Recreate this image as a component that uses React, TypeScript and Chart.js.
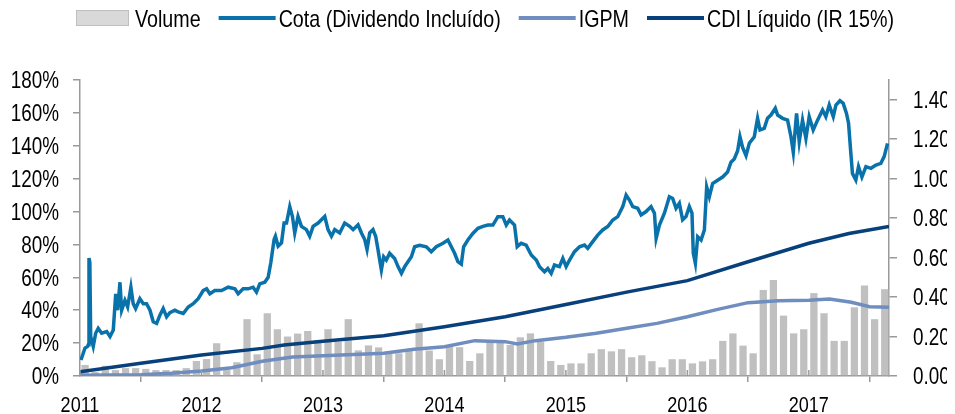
import React, { useEffect, useRef } from 'react';
import { Chart, registerables } from 'chart.js';

Chart.register(...registerables);

const FONT = '"Liberation Sans", Arial, sans-serif';
const SQUEEZE = 0.82; // the reference uses a narrow sans face

// Monthly traded volume (right axis), Jan 2011 .. Aug 2017
const volumeStartYear = 2011;
const volume2011 = [0.056, 0.02, 0.052, 0.03, 0.04, 0.04, 0.036, 0.03, 0.03, 0.03, 0.04, 0.076];
const volume2012 = [0.086, 0.166, 0.03, 0.07, 0.288, 0.11, 0.318, 0.237, 0.2, 0.215, 0.228, 0.183];
const volume2013 = [0.237, 0.174, 0.288, 0.13, 0.155, 0.145, 0.115, 0.115, 0.13, 0.267, 0.129, 0.085];
const volume2014 = [0.149, 0.146, 0.076, 0.115, 0.174, 0.174, 0.157, 0.196, 0.216, 0.175, 0.076, 0.056];
const volume2015 = [0.064, 0.064, 0.115, 0.136, 0.125, 0.136, 0.095, 0.105, 0.075, 0.044, 0.085, 0.085];
const volume2016 = [0.064, 0.074, 0.085, 0.178, 0.216, 0.154, 0.115, 0.436, 0.487, 0.306, 0.216, 0.237];
const volume2017 = [0.42, 0.318, 0.178, 0.178, 0.348, 0.458, 0.288, 0.44];
const volumeValues = [...volume2011, ...volume2012, ...volume2013, ...volume2014, ...volume2015, ...volume2016, ...volume2017];

// Cota (Dividendo Incluído), % (left axis); dates as decimal years
const cotaDates = [
  2011.008, 2011.041, 2011.063, 2011.068, 2011.074, 2011.081, 2011.088, 2011.109, 2011.129, 2011.150,
  2011.178, 2011.220, 2011.247, 2011.274, 2011.294, 2011.310, 2011.329, 2011.343, 2011.370, 2011.392,
  2011.419, 2011.438, 2011.458, 2011.493, 2011.521, 2011.548, 2011.576, 2011.603, 2011.631, 2011.658,
  2011.685, 2011.713, 2011.740, 2011.781, 2011.808, 2011.850, 2011.891, 2011.932, 2011.973, 2012.014,
  2012.042, 2012.069, 2012.110, 2012.165, 2012.220, 2012.275, 2012.302, 2012.343, 2012.384, 2012.425,
  2012.453, 2012.480, 2012.521, 2012.549, 2012.571, 2012.598, 2012.609, 2012.631, 2012.659, 2012.680,
  2012.700, 2012.727, 2012.749, 2012.768, 2012.795, 2012.823, 2012.864, 2012.891, 2012.919, 2012.960,
  2013.015, 2013.042, 2013.070, 2013.097, 2013.138, 2013.179, 2013.220, 2013.248, 2013.289, 2013.317,
  2013.344, 2013.363, 2013.385, 2013.412, 2013.434, 2013.453, 2013.467, 2013.481, 2013.500, 2013.522,
  2013.549, 2013.590, 2013.618, 2013.646, 2013.673, 2013.700, 2013.728, 2013.755, 2013.796, 2013.851,
  2013.892, 2013.933, 2013.988, 2014.029, 2014.057, 2014.084, 2014.111, 2014.139, 2014.158, 2014.193,
  2014.234, 2014.276, 2014.317, 2014.358, 2014.399, 2014.440, 2014.481, 2014.509, 2014.536, 2014.577,
  2014.599, 2014.632, 2014.673, 2014.715, 2014.756, 2014.783, 2014.824, 2014.851, 2014.879, 2014.906,
  2014.947, 2014.975, 2015.002, 2015.030, 2015.071, 2015.112, 2015.153, 2015.180, 2015.221, 2015.262,
  2015.303, 2015.345, 2015.386, 2015.427, 2015.468, 2015.496, 2015.523, 2015.550, 2015.591, 2015.619,
  2015.660, 2015.701, 2015.729, 2015.743, 2015.770, 2015.811, 2015.852, 2015.879, 2015.907, 2015.934,
  2015.961, 2015.989, 2016.016, 2016.038, 2016.049, 2016.066, 2016.085, 2016.113, 2016.140, 2016.159,
  2016.181, 2016.208, 2016.249, 2016.290, 2016.331, 2016.359, 2016.386, 2016.414, 2016.433, 2016.455,
  2016.483, 2016.510, 2016.551, 2016.578, 2016.598, 2016.633, 2016.660, 2016.688, 2016.724, 2016.743,
  2016.784, 2016.825, 2016.853, 2016.872, 2016.899, 2016.921, 2016.948, 2016.976, 2017.003, 2017.036,
  2017.072, 2017.113, 2017.140, 2017.168, 2017.201, 2017.223, 2017.256, 2017.283, 2017.310, 2017.327,
  2017.346, 2017.359, 2017.387, 2017.409, 2017.437, 2017.470, 2017.511, 2017.552, 2017.593, 2017.620,
  2017.648,
];
const cotaValues = [
  9.7, 17, 18, 19, 71.7, 69, 24, 18, 26, 29,
  26, 27, 24, 28, 50, 40, 57, 40, 46, 42,
  54, 44, 41, 47, 44, 44, 40, 33, 32, 37,
  41, 36, 38.5, 40, 39, 38, 42, 44, 47, 52,
  53, 50, 52, 52, 54, 53, 50, 53, 53, 54,
  51, 56, 57, 60, 69, 83, 85, 79, 81, 93,
  93, 103, 97, 87, 97, 91, 89, 85, 91, 93,
  97, 89, 85, 89, 87, 93, 91, 89, 92, 87,
  83, 77, 87, 89, 85, 77, 70.5, 64.5, 72.5, 70.5,
  74.6, 71.5, 66.5, 62.4, 66.5, 69.5, 72.5, 78.6, 79.5, 78.6,
  75.6, 78.6, 80.7, 82.7, 78.6, 74.6, 69.5, 68, 78.6, 82.7,
  86.7, 89.8, 91, 91.8, 91.8, 96.9, 96.9, 91.8, 94.9, 91.8,
  78.6, 80.7, 79.6, 73.6, 70.5, 66.5, 63.4, 65.4, 62.4, 67.5,
  66.5, 71.5, 66.5, 70.5, 75.6, 78.6, 79.6, 77.6, 81.7, 85.7,
  88.8, 90.9, 94.9, 96.9, 103, 110, 107, 103, 102, 98,
  100, 103, 99, 83.7, 91.8, 99, 109, 108, 102, 105,
  95, 97, 103, 99, 74.6, 68.5, 84.7, 82.7, 88.8, 115,
  109, 117, 119, 121, 124, 130, 132, 137, 145.5, 139,
  134, 141.5, 145.5, 156.7, 149.6, 150.6, 156.7, 158.7, 162.8, 158.7,
  156.7, 155.6, 145.5, 136, 159.7, 142.5, 155.6, 144.5, 157.7, 149.6,
  155.6, 161.8, 157.7, 164.8, 157.7, 164.8, 167.4, 165.8, 159.7, 153.7,
  135.4, 123.2, 119.2, 127.3, 121, 127.3, 126.3, 128.3, 129.3, 133.4,
  141.5,
];

// CDI Líquido (IR 15%), % (left axis)
const cdiDates = [2011.0, 2011.5, 2012.0, 2012.5, 2012.68, 2013.0, 2013.5, 2014.0, 2014.5, 2015.0, 2015.5, 2016.0, 2016.5, 2017.0, 2017.33, 2017.66];
const cdiValues = [2.6, 7.7, 12.8, 16.8, 18.8, 21.2, 24.5, 30, 36, 43.5, 51, 58, 69.5, 80.7, 86.7, 91];

// IGPM, % (left axis)
const igpmDates = [2011.0, 2011.5, 2011.75, 2012.0, 2012.25, 2012.5, 2012.75, 2013.0, 2013.5, 2013.75, 2014.0, 2014.25, 2014.5, 2014.6, 2014.75, 2015.0, 2015.25, 2015.5, 2015.75, 2016.0, 2016.25, 2016.5, 2016.75, 2017.0, 2017.17, 2017.35, 2017.5, 2017.66];
const igpmValues = [0.5, 0.8, 1.6, 3, 5, 9, 11.5, 12.3, 13.8, 16.2, 17.8, 21.5, 20.9, 19.5, 21.5, 23.5, 26, 29, 32, 36, 40.5, 44.6, 45.8, 46, 46.8, 44.8, 42.1, 41.8];

const leftAxisMax = 180;
const rightAxisMax = 1.5;

const COTA_COLOR = '#0a72aa';
const CDI_COLOR = '#07407a';
const IGPM_COLOR = '#6f8dbf';
const BAR_COLOR = '#c0c0c0';
const AXIS_COLOR = '#999999';

const legendItems = [
  { label: 'Volume', kind: 'box', color: '#d9d9d9', border: '#bfbfbf' },
  { label: 'Cota (Dividendo Incluído)', kind: 'line', color: COTA_COLOR },
  { label: 'IGPM', kind: 'line', color: IGPM_COLOR },
  { label: 'CDI Líquido (IR 15%)', kind: 'line', color: CDI_COLOR },
];

function narrowText(ctx: CanvasRenderingContext2D, text: string, x: number, y: number, align: CanvasTextAlign, size: number) {
  ctx.save();
  ctx.font = `${size}px ${FONT}`;
  ctx.textAlign = align;
  ctx.textBaseline = 'alphabetic';
  ctx.fillStyle = '#000';
  ctx.translate(x, y);
  ctx.scale(SQUEEZE, 1);
  ctx.fillText(text, 0, 0);
  ctx.restore();
}

function narrowWidth(ctx: CanvasRenderingContext2D, text: string, size: number) {
  ctx.save();
  ctx.font = `${size}px ${FONT}`;
  const w = ctx.measureText(text).width * SQUEEZE;
  ctx.restore();
  return w;
}

const legendPlugin = {
  id: 'customLegend',
  afterDraw(chart: any) {
    const ctx = chart.ctx as CanvasRenderingContext2D;
    const size = 24;
    let x = 68;
    const yMid = 10;
    const baseline = 19;
    for (const it of legendItems) {
      ctx.save();
      if (it.kind === 'box') {
        const w = 53;
        ctx.fillStyle = it.color;
        ctx.fillRect(x, yMid - 8, w, 16);
        ctx.strokeStyle = it.border as string;
        ctx.lineWidth = 1;
        ctx.strokeRect(x + 0.5, yMid - 7.5, w - 1, 15);
        x += w + 6;
      } else {
        const w = 57;
        ctx.strokeStyle = it.color;
        ctx.lineWidth = 4;
        ctx.beginPath();
        ctx.moveTo(x, yMid);
        ctx.lineTo(x + w, yMid);
        ctx.stroke();
        x += w + 3;
      }
      ctx.restore();
      narrowText(ctx, it.label, x, baseline, 'left', size);
      x += narrowWidth(ctx, it.label, size) + 18;
    }
  },
};

const axisTextPlugin = {
  id: 'axisText',
  afterDraw(chart: any) {
    const ctx = chart.ctx as CanvasRenderingContext2D;
    const sx = chart.scales.x;
    const sy = chart.scales.y;
    const sy2 = chart.scales.y2;
    const bottom = chart.chartArea.bottom;

    // inner half of the year tick marks
    ctx.save();
    ctx.strokeStyle = AXIS_COLOR;
    ctx.lineWidth = 1.5;
    for (const t of sx.ticks) {
      const px = sx.getPixelForValue(t.value);
      ctx.beginPath();
      ctx.moveTo(px, bottom - 6);
      ctx.lineTo(px, bottom);
      ctx.stroke();
    }
    ctx.restore();

    for (const t of sx.ticks) {
      narrowText(ctx, String(Math.round(t.value)), sx.getPixelForValue(t.value), bottom + 35.5, 'center', 22);
    }
    for (const t of sy.ticks) {
      narrowText(ctx, `${Math.round(t.value)}%`, sy.right - 21, sy.getPixelForValue(t.value) + 8.2, 'right', 23);
    }
    for (const t of sy2.ticks) {
      narrowText(ctx, Number(t.value).toFixed(2), sy2.left + 24, sy2.getPixelForValue(t.value) + 8.2, 'left', 23);
    }
  },
};

export default function App() {
  const ref = useRef<HTMLCanvasElement | null>(null);

  useEffect(() => {
    const canvas = ref.current;
    if (!canvas) return;

    const chart = new Chart(canvas, {
      type: 'line',
      data: {
        datasets: [
          {
            type: 'line',
            label: 'Cota (Dividendo Incluído)',
            data: cotaDates.map((d, i) => ({ x: d, y: cotaValues[i] })),
            borderColor: COTA_COLOR,
            backgroundColor: COTA_COLOR,
            borderWidth: 3.5,
            pointRadius: 0,
            tension: 0,
            yAxisID: 'y',
            order: 1,
          },
          {
            type: 'line',
            label: 'CDI Líquido (IR 15%)',
            data: cdiDates.map((d, i) => ({ x: d, y: cdiValues[i] })),
            borderColor: CDI_COLOR,
            backgroundColor: CDI_COLOR,
            borderWidth: 3.5,
            pointRadius: 0,
            tension: 0,
            yAxisID: 'y',
            order: 2,
          },
          {
            type: 'line',
            label: 'IGPM',
            data: igpmDates.map((d, i) => ({ x: d, y: igpmValues[i] })),
            borderColor: IGPM_COLOR,
            backgroundColor: IGPM_COLOR,
            borderWidth: 3.5,
            pointRadius: 0,
            tension: 0,
            yAxisID: 'y',
            order: 3,
          },
          {
            type: 'bar',
            label: 'Volume',
            data: volumeValues.map((v, i) => ({ x: volumeStartYear + (i + 0.5) / 12, y: v })),
            backgroundColor: BAR_COLOR,
            borderWidth: 0,
            barPercentage: 0.9,
            categoryPercentage: 0.8,
            yAxisID: 'y2',
            order: 10,
          },
        ] as any,
      },
      options: {
        animation: false,
        responsive: false,
        devicePixelRatio: 1,
        layout: { padding: { top: 72, left: 0, right: 0, bottom: 0 } },
        plugins: { legend: { display: false }, tooltip: { enabled: false } },
        scales: {
          x: {
            type: 'linear',
            min: 2011,
            max: 2017.66,
            offset: false,
            ticks: { display: false, stepSize: 1, includeBounds: false, autoSkip: false, maxRotation: 0 },
            grid: { drawOnChartArea: false, drawTicks: true, tickLength: 6, color: AXIS_COLOR, lineWidth: 1.5 },
            border: { color: AXIS_COLOR, width: 1.5 },
            afterFit: (s: any) => {
              s.height = 38;
              s.paddingLeft = 0;
              s.paddingRight = 0;
            },
          },
          y: {
            position: 'left',
            min: 0,
            max: leftAxisMax,
            ticks: { display: false, stepSize: 20 },
            grid: { drawOnChartArea: false, drawTicks: true, tickLength: 7, color: AXIS_COLOR, lineWidth: 1.5 },
            border: { color: AXIS_COLOR, width: 1.5 },
            afterFit: (s: any) => {
              s.width = 72;
              s.paddingTop = 0;
              s.paddingBottom = 0;
            },
          },
          y2: {
            position: 'right',
            min: 0,
            max: rightAxisMax,
            ticks: { display: false, stepSize: 0.2, includeBounds: false },
            grid: { drawOnChartArea: false, drawTicks: true, tickLength: 8, color: AXIS_COLOR, lineWidth: 1.5 },
            border: { color: AXIS_COLOR, width: 1.5 },
            afterFit: (s: any) => {
              s.width = 58;
              s.paddingTop = 0;
              s.paddingBottom = 0;
            },
          },
        },
      } as any,
      plugins: [legendPlugin, axisTextPlugin],
    });

    return () => chart.destroy();
  }, []);

  return (
    <div style={{ width: 939, height: 406 }}>
      <canvas ref={ref} width={939} height={406} style={{ display: 'block', width: 939, height: 406 }} />
    </div>
  );
}
